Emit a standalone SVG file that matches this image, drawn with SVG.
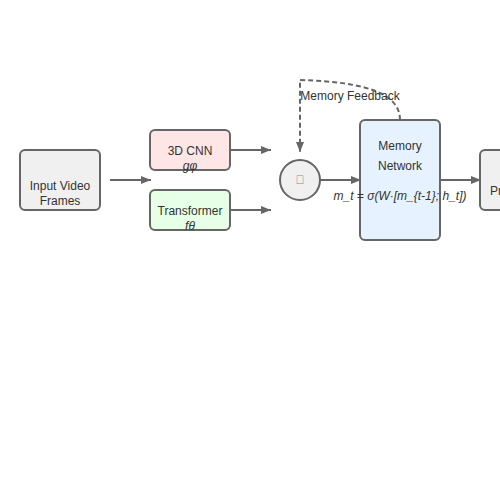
<svg xmlns="http://www.w3.org/2000/svg" width="500" height="500" viewBox="0 0 500 500">
<style>
.box{stroke:#666;stroke-width:2}
.t{font-family:"Liberation Sans",Arial,sans-serif;font-size:12px;fill:#333;text-anchor:middle}
.i{font-style:italic}
.c{stroke:#666;stroke-width:2;fill:none}
</style>
<defs>
<marker id="ah" markerWidth="10" markerHeight="8" refX="10" refY="4" orient="auto" markerUnits="userSpaceOnUse">
<path d="M0,0 L10,4 L0,8 Z" fill="#666"/>
</marker>
</defs>
<rect width="500" height="500" fill="#fff"/>
<g id="connectors">
<line class="c" x1="110" y1="180" x2="151" y2="180" marker-end="url(#ah)"/>
<line class="c" x1="230" y1="150" x2="271" y2="150" marker-end="url(#ah)"/>
<line class="c" x1="230" y1="210" x2="271" y2="210" marker-end="url(#ah)"/>
<line class="c" x1="320" y1="180" x2="361" y2="180" marker-end="url(#ah)"/>
<line class="c" x1="440" y1="180" x2="481" y2="180" marker-end="url(#ah)"/>
<path class="c" d="M400,120 C400,95 370,82 300,80 L300,152" stroke-dasharray="5,3" marker-end="url(#ah)"/>
<text class="t" x="350" y="100">Memory Feedback</text>
</g>
<g id="input">
<rect class="box" x="20" y="150" width="80" height="60" rx="5" fill="#f0f0f0"/>
<text class="t" x="60" y="190">Input Video</text>
<text class="t" x="60" y="205">Frames</text>
</g>
<g id="cnn">
<rect class="box" x="150" y="130" width="80" height="40" rx="5" fill="#ffe6e6"/>
<text class="t" x="190" y="155">3D CNN</text>
<text class="t i" x="190" y="170">gφ</text>
</g>
<g id="transformer">
<rect class="box" x="150" y="190" width="80" height="40" rx="5" fill="#e6ffe6"/>
<text class="t" x="190" y="215">Transformer</text>
<text class="t i" x="190" y="230">fθ</text>
</g>
<g id="fusion">
<circle class="box" cx="300" cy="180" r="20" fill="#f0f0f0"/>
<text class="t" x="300" y="184" style="font-size:12px;fill:#888">&#xE000;</text>
</g>
<g id="memory">
<rect class="box" x="360" y="120" width="80" height="120" rx="5" fill="#e6f2ff"/>
<text class="t" x="400" y="150">Memory</text>
<text class="t" x="400" y="170">Network</text>
<text class="t i" x="400" y="200">m_t = σ(W·[m_{t-1}; h_t])</text>
</g>
<g id="prediction">
<rect class="box" x="480" y="150" width="80" height="60" rx="5" fill="#f0f0f0"/>
<text class="t" x="518" y="195" style="text-anchor:start" dx="-28">Prediction</text>
</g>
</svg>
